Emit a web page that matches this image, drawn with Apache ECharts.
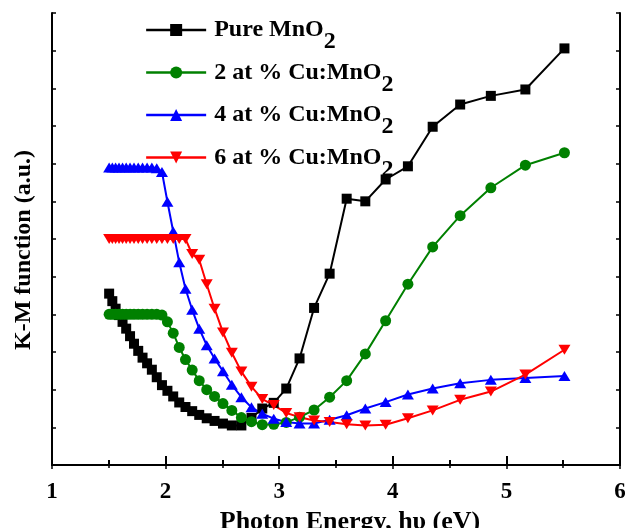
<!DOCTYPE html>
<html>
<head>
<meta charset="utf-8">
<script src="https://cdn.jsdelivr.net/npm/echarts@6/dist/echarts.min.js"></script>
<style>html,body{margin:0;padding:0;background:#fff;}#c{width:625px;height:528px;}</style>
</head>
<body>
<div id="c"></div>
<script>
// Photon energy (eV)
var energy = [1.503,1.531,1.560,1.590,1.621,1.653,1.687,1.722,1.759,1.797,1.837,1.879,1.922,1.968,2.016,2.067,2.120,2.175,2.234,2.296,2.362,2.431,2.505,2.583,2.667,2.756,2.851,2.952,3.062,3.179,3.307,3.444,3.594,3.758,3.937,4.133,4.351,4.593,4.863,5.167,5.511];
var seriesNames = ['Pure MnO2', '2 at % Cu:MnO2', '4 at % Cu:MnO2', '6 at % Cu:MnO2'];
var pure = [4.55,4.35,4.15,3.98,3.80,3.62,3.42,3.22,3.03,2.85,2.70,2.53,2.33,2.12,1.97,1.82,1.66,1.54,1.43,1.33,1.24,1.17,1.10,1.05,1.05,1.25,1.50,1.65,2.03,2.83,4.17,5.08,7.07,7.00,7.58,7.93,8.98,9.57,9.80,9.97,11.06];
var cu2 = [4.00,4.00,4.00,4.00,4.00,4.00,4.00,4.00,4.00,4.00,4.00,4.00,4.00,3.98,3.80,3.50,3.12,2.80,2.52,2.24,2.00,1.82,1.63,1.45,1.26,1.15,1.07,1.08,1.13,1.27,1.46,1.80,2.24,2.95,3.83,4.80,5.79,6.62,7.36,7.96,8.29];
var cu4 = [7.90,7.90,7.90,7.90,7.90,7.90,7.90,7.90,7.90,7.90,7.90,7.90,7.88,7.78,6.99,6.20,5.38,4.68,4.12,3.62,3.18,2.83,2.49,2.13,1.80,1.53,1.36,1.23,1.14,1.10,1.10,1.20,1.32,1.50,1.67,1.87,2.03,2.17,2.26,2.31,2.36];
var cu6 = [6.00,6.00,6.00,6.00,6.00,6.00,6.00,6.00,6.00,6.00,6.00,6.00,6.00,6.00,6.00,6.00,6.00,6.00,5.60,5.45,4.80,4.15,3.52,2.98,2.48,2.08,1.75,1.59,1.38,1.27,1.18,1.14,1.08,1.05,1.07,1.24,1.45,1.73,1.95,2.40,3.06];
var xTicks = {min: 1, max: 6, interval: 1};
var yTicks = {min: 0, max: 12, interval: 1};

var FONT = 'Liberation Serif';
var colors = ['#000000', '#008000', '#0000ff', '#ff0000'];
var symbols = ['rect', 'circle', 'triangle', 'triangle'];
var symbolSizes = [10, 11, [12, 10], [12, 10]];
var symbolRotates = [0, 0, 0, 180];
var values = [pure, cu2, cu4, cu6];

var series = values.map(function (vals, k) {
  return {
    name: seriesNames[k],
    type: 'line',
    data: energy.map(function (x, i) { return [x, vals[i]]; }),
    symbol: symbols[k],
    symbolSize: symbolSizes[k],
    symbolRotate: symbolRotates[k],
    showAllSymbol: true,
    lineStyle: {color: colors[k], width: 2},
    itemStyle: {color: colors[k]},
    emphasis: {disabled: true},
    animation: false
  };
});

function subFmt(name) { return name.replace('MnO2', 'MnO{s|2}'); }

var legends = seriesNames.map(function (n, i) {
  return {
    data: [n],
    orient: 'vertical',
    left: 145,
    top: 18 + i * 42.5,
    padding: 0,
    itemWidth: 60,
    itemHeight: 15,
    lineStyle: {width: 2.3},
    formatter: subFmt,
    textStyle: {
      fontFamily: FONT, fontWeight: 'bold', fontSize: 24, color: '#000',
      padding: [0, 0, 0, 3],
      rich: {s: {fontFamily: FONT, fontWeight: 'bold', fontSize: 24, color: '#000', padding: [24, 0, 0, 0]}}
    }
  };
});

var lineStyleAx = {color: '#000', width: 2};
var option = {
  backgroundColor: '#fff',
  animation: false,
  legend: legends,
  grid: {left: 52, right: 5, top: 13, bottom: 63, containLabel: false, outerBoundsMode: 'none'},
  xAxis: [{
    type: 'value', position: 'bottom', min: xTicks.min, max: xTicks.max, interval: xTicks.interval,
    axisLine: {show: true, lineStyle: lineStyleAx},
    axisTick: {show: true, inside: true, length: 9, lineStyle: {color: '#000', width: 2}},
    minorTick: {show: true, splitNumber: 2, length: 5, lineStyle: {color: '#000', width: 2}},
    splitLine: {show: false},
    axisLabel: {margin: 16, fontFamily: FONT, fontWeight: 'bold', fontSize: 23, color: '#000'},
    name: 'Photon Energy, hυ (eV)', nameLocation: 'middle', nameGap: 40,
    nameTextStyle: {fontFamily: FONT, fontWeight: 'bold', fontSize: 26, color: '#000', padding: [0, 0, 0, 28]}
  }, {
    type: 'value', position: 'top', min: xTicks.min, max: xTicks.max, interval: xTicks.interval,
    axisLine: {show: true, lineStyle: lineStyleAx},
    axisTick: {show: true, inside: true, length: 4, lineStyle: {color: '#000', width: 1.5}},
    minorTick: {show: true, splitNumber: 2, length: 3, lineStyle: {color: '#000', width: 1.5}},
    splitLine: {show: false}, axisLabel: {show: false}
  }],
  yAxis: [{
    type: 'value', position: 'left', min: yTicks.min, max: yTicks.max, interval: yTicks.interval,
    axisLine: {show: true, lineStyle: lineStyleAx},
    axisTick: {show: true, inside: true, length: 4, lineStyle: {color: '#000', width: 1.5}},
    splitLine: {show: false}, axisLabel: {show: false},
    name: 'K-M function (a.u.)', nameLocation: 'middle', nameGap: 16,
    nameTextStyle: {fontFamily: FONT, fontWeight: 'bold', fontSize: 24, color: '#000', padding: [0, 22, 0, 0]}
  }, {
    type: 'value', position: 'right', min: yTicks.min, max: yTicks.max, interval: yTicks.interval,
    axisLine: {show: true, lineStyle: lineStyleAx},
    axisTick: {show: true, inside: true, length: 4, lineStyle: {color: '#000', width: 1.5}},
    splitLine: {show: false}, axisLabel: {show: false}
  }],
  series: series
};
var chart = echarts.init(document.getElementById('c'), null, {renderer: 'canvas'});
chart.setOption(option);
</script>
</body>
</html>
